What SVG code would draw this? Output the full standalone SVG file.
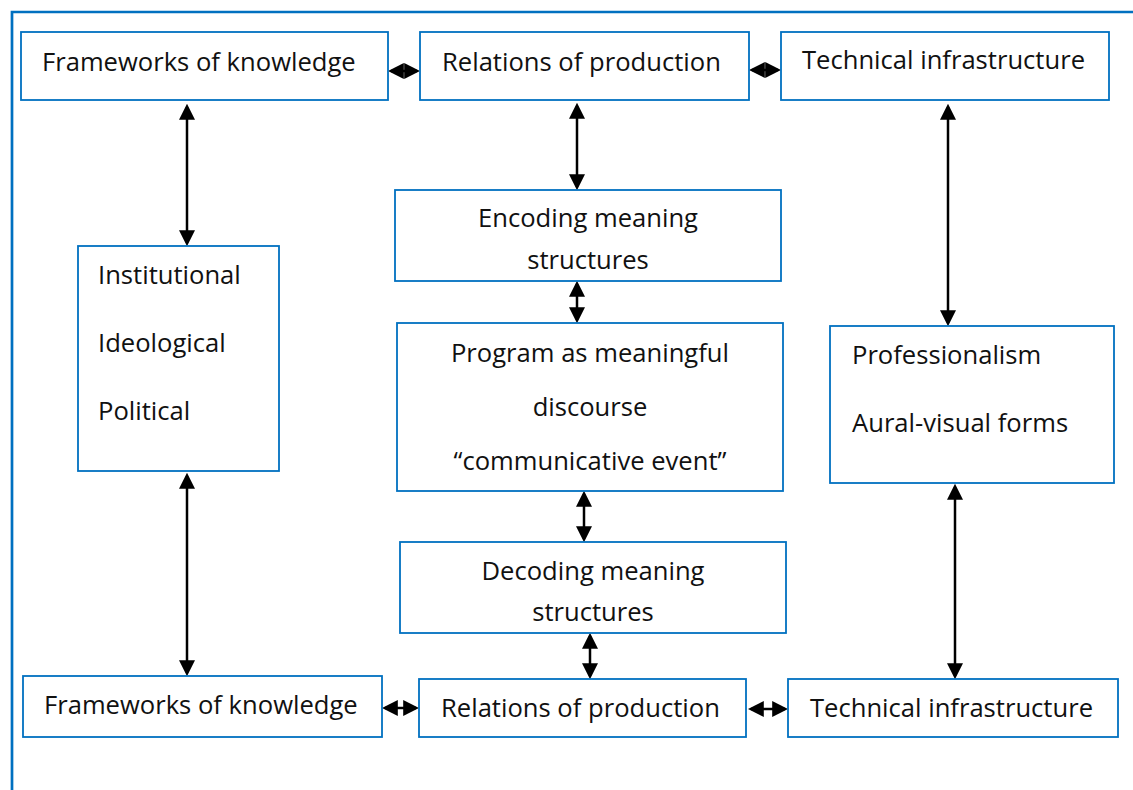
<svg xmlns="http://www.w3.org/2000/svg" width="1133" height="790" viewBox="0 0 1133 790">
  <style>
    .box { fill: #ffffff; stroke: #0070c0; stroke-width: 1.8; }
    .lbl { font-family: "Open Sans", "Noto Sans", sans-serif; font-size: 25.6px; fill: #111111; }
    .mid { text-anchor: middle; }
    .link { stroke: #000000; stroke-width: 2.5; fill: none; marker-start: url(#head); marker-end: url(#head); }
    .frame { stroke: #0070c0; stroke-width: 2.7; fill: none; }
  </style>
  <defs>
    <marker id="head" viewBox="0 0 10 10" refX="8" refY="5" markerWidth="16" markerHeight="16" markerUnits="userSpaceOnUse" orient="auto-start-reverse">
      <path d="M0,0 L10,5 L0,10 z" fill="#000000"/>
    </marker>
  </defs>

  <rect width="1133" height="790" fill="#ffffff"/>

  <!-- page frame -->
  <path class="frame" d="M12,790 V12 H1133"/>

  <!-- connectors -->
  <g id="connectors">
    <line class="link" x1="391" y1="71" x2="417" y2="71"/>
    <line class="link" x1="752" y1="70" x2="778" y2="70"/>
    <line class="link" x1="187" y1="107" x2="187" y2="243"/>
    <line class="link" x1="187" y1="476" x2="187" y2="673"/>
    <line class="link" x1="577" y1="106" x2="577" y2="187"/>
    <line class="link" x1="577" y1="284" x2="577" y2="320"/>
    <line class="link" x1="584" y1="494" x2="584" y2="539"/>
    <line class="link" x1="590" y1="636" x2="590" y2="676"/>
    <line class="link" x1="948" y1="107" x2="948" y2="323"/>
    <line class="link" x1="955" y1="487" x2="955" y2="676"/>
    <line class="link" x1="385" y1="708" x2="416" y2="708"/>
    <line class="link" x1="751" y1="709" x2="785" y2="709"/>
  </g>

  <!-- top row -->
  <g id="frameworks-top">
    <rect class="box" x="21" y="32" width="367" height="68"/>
    <text class="lbl" x="42" y="71">Frameworks of knowledge</text>
  </g>
  <g id="relations-top">
    <rect class="box" x="420" y="32" width="329" height="68"/>
    <text class="lbl" x="442" y="71">Relations of production</text>
  </g>
  <g id="technical-top">
    <rect class="box" x="781" y="32" width="328" height="68"/>
    <text class="lbl" x="802" y="69">Technical infrastructure</text>
  </g>

  <!-- middle column -->
  <g id="encoding">
    <rect class="box" x="395" y="190" width="386" height="91"/>
    <text class="lbl mid" x="588" y="227">Encoding meaning</text>
    <text class="lbl mid" x="588" y="269">structures</text>
  </g>
  <g id="program">
    <rect class="box" x="397" y="323" width="386" height="168"/>
    <text class="lbl mid" x="590" y="362">Program as meaningful</text>
    <text class="lbl mid" x="590" y="416">discourse</text>
    <text class="lbl mid" x="590" y="470">“communicative event”</text>
  </g>
  <g id="decoding">
    <rect class="box" x="400" y="542" width="386" height="91"/>
    <text class="lbl mid" x="593" y="580">Decoding meaning</text>
    <text class="lbl mid" x="593" y="621">structures</text>
  </g>

  <!-- side boxes -->
  <g id="institutional">
    <rect class="box" x="78" y="246" width="201" height="225"/>
    <text class="lbl" x="98" y="284">Institutional</text>
    <text class="lbl" x="98" y="352">Ideological</text>
    <text class="lbl" x="98" y="420">Political</text>
  </g>
  <g id="professionalism">
    <rect class="box" x="830" y="326" width="284" height="157"/>
    <text class="lbl" x="852" y="364">Professionalism</text>
    <text class="lbl" x="852" y="432">Aural-visual forms</text>
  </g>

  <!-- bottom row -->
  <g id="frameworks-bottom">
    <rect class="box" x="23" y="676" width="359" height="61"/>
    <text class="lbl" x="44" y="714">Frameworks of knowledge</text>
  </g>
  <g id="relations-bottom">
    <rect class="box" x="419" y="679" width="327" height="58"/>
    <text class="lbl" x="441" y="717">Relations of production</text>
  </g>
  <g id="technical-bottom">
    <rect class="box" x="788" y="679" width="330" height="58"/>
    <text class="lbl" x="810" y="717">Technical infrastructure</text>
  </g>
</svg>
